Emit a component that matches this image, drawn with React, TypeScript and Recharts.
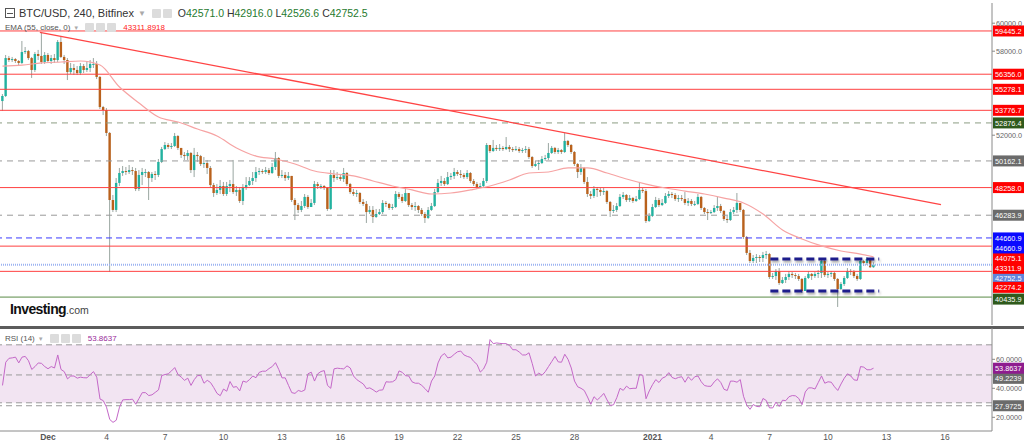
import React from 'react'
import { ComposedChart, Bar, Line, XAxis, YAxis, ReferenceLine, ReferenceArea } from 'recharts'

// 4h candles, hours relative to Dec 1 00:00
const START_HOUR = -56
const STEP_HOURS = 4
const FIRST_OPEN = 54440

const CLOSES = [
  54800, 57510, 57370, 57440, 57300, 57160, 57940, 58010, 57510, 56660,
  57800, 57660, 57230, 57730, 57300, 57510, 57370, 58660, 57590, 57370,
  56510, 56800, 56660, 56440, 56940, 56660, 56800, 57090, 57090, 56160,
  54010, 53800, 52160, 47370, 46660, 48590, 49300, 49440, 49370, 49510,
  49440, 48160, 49160, 49370, 49370, 48940, 49230, 49160, 50090, 51010,
  51300, 51160, 51230, 51940, 51090, 50590, 50510, 50730, 49510, 50590,
  50510, 49940, 50010, 49660, 48440, 47870, 48090, 48370, 47800, 48370,
  48510, 47940, 48090, 47300, 48230, 48440, 48730, 48940, 49370, 49440,
  49370, 49510, 49300, 49730, 50370, 49090, 49160, 48940, 49090, 47370,
  47010, 46660, 46940, 47590, 46870, 47160, 48510, 48370, 48370, 48230,
  46730, 49160, 48940, 49010, 48870, 49300, 48510, 47940, 47800, 47870,
  47230, 47090, 46510, 46660, 46160, 46370, 46510, 47160, 47090, 46800,
  46870, 47800, 47590, 47300, 47870, 47010, 46870, 46940, 46660, 46370,
  46090, 46660, 46940, 47940, 48590, 48730, 48510, 49010, 49090, 49370,
  49230, 49160, 49010, 49300, 48730, 48510, 48300, 48370, 48730, 51300,
  50870, 51090, 51010, 51090, 51010, 51160, 51010, 50940, 51010, 50870,
  50940, 51010, 50440, 49800, 49940, 50010, 50300, 50370, 50730, 51090,
  50800, 50940, 50800, 51590, 51300, 50800, 49940, 49370, 49660, 48660,
  47800, 47660, 48160, 48090, 47940, 48010, 47230, 46590, 46660, 46940,
  47590, 47730, 47370, 47510, 47300, 47440, 48090, 48010, 45870, 46230,
  46870, 47370, 47010, 47160, 47660, 47800, 47730, 47440, 47510, 47440,
  47160, 47300, 47090, 47090, 47590, 46800, 46510, 46440, 46510, 46800,
  46940, 46590, 46010, 45940, 46510, 46660, 47160, 46660, 44730, 43590,
  43010, 43230, 43300, 43230, 43440, 43510, 41870, 41940, 42300, 41440,
  41660, 41870, 42090, 42010, 41940, 41730, 40870, 41800, 42090, 41940,
  42090, 42160, 43010, 42010, 42090, 42160, 41730, 41010, 41370, 41800,
  42300, 42230, 41940, 41730, 43010, 42870, 43160, 42571, 42752.5,
]

const HIGHS = [
  54940, 57730, 57660, 57590, 57510, 57370, 58730, 58300, 58090, 57590,
  57940, 58090, 59300, 57940, 57870, 57730, 57800, 58800, 59090, 57730,
  57510, 57160, 57090, 56940, 57160, 57090, 57230, 57370, 57510, 57300,
  56230, 54090, 53940, 52230, 47730, 48940, 49660, 49800, 49730, 49870,
  49730, 49660, 49510, 49660, 49590, 49440, 49370, 49440, 50300, 51160,
  51510, 51440, 51440, 52160, 52010, 51090, 50800, 50940, 50800, 51090,
  50800, 50590, 50440, 50230, 49800, 48590, 48510, 48800, 48660, 48660,
  48800, 50230, 48370, 48300, 48510, 49010, 49010, 49370, 49730, 49660,
  49590, 49730, 49660, 50010, 50800, 50440, 49510, 49370, 49370, 49090,
  47510, 47160, 47300, 47800, 47730, 47440, 48730, 48660, 48510, 48440,
  48300, 49510, 49510, 49370, 49230, 49660, 49370, 48590, 48160, 48090,
  47940, 47440, 47300, 46940, 46940, 46730, 46730, 47370, 47300, 47160,
  47090, 48010, 47940, 47800, 48300, 47870, 47160, 47230, 47010, 46800,
  46510, 46870, 47160, 48160, 48870, 49090, 48940, 49370, 49300, 49660,
  49510, 49510, 49300, 49510, 49370, 48870, 48660, 48590, 48940, 51440,
  51300, 51660, 51300, 51370, 51230, 51870, 51300, 51160, 51230, 51160,
  51090, 51230, 51160, 50510, 50160, 50230, 50510, 50590, 51440, 51230,
  51160, 51090, 51010, 52160, 51660, 51370, 50870, 50010, 49940, 49730,
  49010, 48010, 48370, 48300, 48230, 48230, 48090, 47300, 47010, 47160,
  47800, 47940, 47800, 47730, 47590, 47660, 48660, 48230, 48160, 46440,
  47090, 47590, 47510, 47440, 47870, 48010, 47940, 47870, 47730, 47730,
  47940, 47510, 47440, 47300, 47800, 47660, 46870, 46730, 46660, 47010,
  47590, 47090, 46660, 46230, 46730, 46870, 47870, 47160, 46730, 44800,
  43800, 43440, 43510, 43440, 43660, 43730, 43590, 42160, 42440, 42510,
  41870, 42090, 42300, 42230, 42160, 42090, 41800, 41940, 42300, 42160,
  42230, 42370, 43230, 43090, 42230, 42300, 42230, 41800, 41510, 41940,
  42510, 42440, 42370, 42090, 43160, 43090, 43300, 43230, 42916,
]

const LOWS = [
  53730, 54730, 57230, 57230, 57160, 56940, 57090, 57800, 57370, 56090,
  56510, 57370, 57090, 57090, 57160, 57090, 57160, 57230, 57510, 57090,
  55940, 56370, 56300, 56300, 56300, 56440, 56510, 56510, 56800, 56010,
  53870, 53440, 51940, 42230, 46510, 46510, 48370, 49090, 49160, 49230,
  49160, 48010, 48010, 48440, 49010, 47370, 48660, 48800, 49010, 50010,
  50940, 51010, 51010, 51160, 50940, 50370, 50230, 50230, 49300, 49010,
  50090, 49800, 49660, 49230, 48300, 47590, 47730, 47800, 47660, 47660,
  47940, 47800, 47660, 47160, 47010, 48090, 48370, 48440, 48660, 49160,
  49230, 49230, 49160, 49230, 49510, 48940, 48940, 48730, 48800, 47230,
  45940, 46440, 46510, 46800, 46730, 46940, 47010, 48160, 48160, 48090,
  46590, 46660, 48660, 48800, 48730, 48660, 48370, 47800, 47660, 47590,
  47090, 46940, 45730, 46370, 45730, 46090, 46300, 46370, 46870, 46660,
  46660, 46800, 47440, 47160, 47230, 46870, 46660, 46590, 46440, 46230,
  45730, 46010, 46590, 46870, 47870, 48370, 48370, 48440, 48800, 48870,
  49090, 48940, 48870, 48870, 48590, 48370, 48160, 48230, 48230, 48590,
  50730, 50800, 50870, 50870, 50870, 50940, 50800, 50800, 50870, 50730,
  50730, 50730, 50300, 49660, 49730, 49510, 49940, 50160, 50230, 50660,
  50660, 50660, 50660, 50730, 51160, 50660, 49800, 48940, 49160, 48510,
  47590, 47440, 47510, 47590, 47660, 47730, 47090, 46160, 46440, 46510,
  46870, 47440, 47230, 47230, 47160, 47230, 47370, 47870, 45730, 45800,
  46160, 46800, 46870, 46940, 47090, 47510, 47510, 47300, 47230, 47300,
  47010, 46940, 46940, 46940, 47010, 46660, 46370, 45940, 46370, 46440,
  46590, 46440, 45870, 45730, 45870, 46370, 46440, 46510, 44590, 43440,
  42870, 42870, 42870, 42940, 42940, 43160, 41730, 41730, 41660, 41300,
  41370, 41440, 41660, 41800, 41730, 41590, 40730, 40870, 41730, 41660,
  41800, 41800, 41800, 41870, 41800, 41870, 41590, 39730, 40940, 41230,
  41730, 42010, 41800, 41590, 41660, 42660, 42730, 42510, 42526.6,
]

// EMA(55) read once per day (every 6th candle), plus the last value
const EMA_DAILY = [
  56940, 57010, 57160, 57230, 57300, 57010, 55440, 54300, 53300, 52940,
  52440, 51940, 51090, 50510, 50300, 49940, 49440, 49230, 49090, 48730,
  48370, 48090, 47800, 47870, 48090, 48370, 48800, 49300, 49370, 49660,
  49660, 49300, 48870, 48510, 48230, 48010, 47800, 47510, 47160, 46370,
  45230, 44590, 44090, 43730, 43510,
]
const EMA_LAST = 43311.8918

const RSI14 = [
  42, 58, 60.7, 61, 61.5, 57.5, 61.5, 62, 59, 53,
  55, 57.5, 57.2, 55, 53.5, 55, 54, 63, 53, 51.5,
  46.5, 48.5, 48.5, 47, 47.7, 47.3, 47.2, 49.5, 51.5, 47.7,
  32.6, 31.5, 27, 18.5, 16.5, 18, 27, 32, 32.2, 32.2,
  32.5, 29, 33, 37, 37, 35, 35.5, 37.2, 38.9, 48.8,
  49.5, 50, 52, 54.3, 49.5, 47.7, 45.5, 47, 42, 46,
  48.8, 48.8, 43.5, 45.5, 44, 40.5, 36.5, 34.9, 39.5, 38,
  44.7, 40.7, 41.2, 38.2, 45, 44.2, 46, 48.5, 47.3, 51,
  51.8, 51.8, 53.6, 55, 57.7, 53, 47.2, 47.2, 42, 37,
  36.5, 38.5, 37.8, 38.8, 50, 51.1, 45, 50, 51.6, 52.2,
  42, 40, 53.4, 53.9, 53.6, 53.4, 55.5, 54, 48.5, 46,
  44.5, 43, 39.8, 40.3, 39, 37.4, 38.7, 38.9, 44.5, 44.3,
  44.5, 46, 52, 51, 48.7, 48.5, 44.5, 43.5, 43.5, 42,
  39.8, 37.3, 45, 48.5, 57.5, 62.3, 64, 61, 61.5, 63.5,
  65.2, 65.7, 63, 62, 61.3, 58.5, 56.5, 51.2, 53.3, 58,
  73.6, 70.8, 71.3, 71, 70.8, 70.8, 69.5, 66.6, 66.6, 65,
  63, 63, 64.5, 57, 48.5, 50.5, 49, 51.5, 55, 58.5,
  62, 58.2, 58, 63.5, 60, 54, 45, 41, 40, 38.5,
  34, 29, 34.2, 32, 34, 36.5, 32, 28.2, 28.6, 33.5,
  40, 38.6, 41.5, 39.7, 40, 40, 49.5, 49, 32.8, 38.2,
  42.5, 46, 44, 47, 48, 50.8, 47.5, 46.6, 47.5, 48,
  44.2, 48, 45.5, 48, 48.5, 44.5, 41.9, 41.4, 41.4, 44.5,
  46.5, 44, 39.3, 38.5, 45, 44.9, 44.2, 46, 34.5, 28.4,
  25.5, 28.8, 27.5, 27.3, 33, 31.6, 26.5, 26.5, 30.5, 27.5,
  31.8, 31.5, 34.2, 35, 34.8, 33, 28.7, 37.5, 40.3, 40.3,
  39.5, 44, 48.5, 43.5, 44.5, 44.2, 41, 38.5, 43, 47,
  50, 48.5, 45.8, 45.5, 55, 54.6, 52.8, 52.8, 53.8637,
]

// horizontal levels drawn on the price pane
const LEVELS = [59445.2, 56356.0, 55278.1, 53776.7, 52876.4, 50162.1, 48258.0, 46283.9, 44660.9, 44075.1, 42752.5, 42274.2, 40435.9]
const LEVEL_KIND = ['red', 'red', 'red', 'red', 'greenDash', 'grayDash', 'red', 'grayDash', 'blueDash', 'red', 'price', 'red', 'green']
const LEVEL_TAG_SHIFT = [0, 0, 0, 0, 0, 0, 0, 0, 0, 12, 13, 16, 2]

// trend line and the consolidation box (hours, price)
const TREND = [{ x: -10, y: 59350 }, { x: 1099, y: 47040 }]
const BOX_HOURS = [889, 1023]
const BOX_PRICES = [43160, 40870]

const DAY_TICKS = [0, 72, 144, 216, 288, 360, 432, 504, 576, 648, 744, 816, 888, 960, 1032, 1104]
const DAY_LABELS = ['Dec', '4', '7', '10', '13', '16', '19', '22', '25', '28', '2021', '4', '7', '10', '13', '16']
const PRICE_TICKS = [60000, 58000, 52000]
const RSI_TICKS = [80, 60, 40, 20]
const RSI_LEVELS = [70, 49.2239, 30, 27.9725]
const RSI_TAGGED = [false, true, false, true]

const X_DOMAIN = [-59.08, 1161.8]
const PRICE_DOMAIN = [38442, 61443]
const RSI_DOMAIN = [10.55, 81.6]

const FONT = '"Liberation Sans", Arial, sans-serif'
const UP = '#22b2a0'
const DOWN = '#b9611c'
const WICK = '#9aa6a1'

const KIND_STYLE: Record<string, { stroke: string; dash?: string; tag: string; width?: number }> = {
  red: { stroke: '#ff4040', tag: '#ff0000' },
  greenDash: { stroke: '#8c9c82', dash: '6 5', tag: '#2f5a1c' },
  grayDash: { stroke: '#9a9a9a', dash: '6 5', tag: '#6b6b6b' },
  blueDash: { stroke: '#3a3aff', dash: '6 4', tag: '#0a0aff' },
  price: { stroke: '#9db4f2', dash: '1 1', tag: '#5f85dc', width: 2 },
  green: { stroke: '#5a8a46', tag: '#2f5a1c' },
}

const rows = CLOSES.map((close, i) => ({
  h: START_HOUR + i * STEP_HOURS,
  open: i === 0 ? FIRST_OPEN : CLOSES[i - 1],
  close,
  high: HIGHS[i],
  low: LOWS[i],
  ema: i % 6 === 0 ? EMA_DAILY[i / 6] : i === CLOSES.length - 1 ? EMA_LAST : null,
  rsi: RSI14[i],
}))

function Candle(props: any) {
  const { x, y, width, height, payload } = props
  if (payload == null || height == null) return null
  const { open, close, high, low } = payload
  const cx = x + width / 2
  const k = height / (high - low)
  const yo = y + (high - open) * k
  const yc = y + (high - close) * k
  const up = close >= open
  return (
    <g>
      <line x1={cx} x2={cx} y1={y} y2={y + height} stroke={WICK} strokeWidth={1} />
      <rect x={cx - 1.2} y={Math.min(yo, yc)} width={2.4} height={Math.max(Math.abs(yo - yc), 1)} fill={up ? UP : DOWN} />
    </g>
  )
}

const tag = (text: string, bg: string, shift: number) => (props: any) => {
  const vb = props.viewBox || { x: 0, y: 0, width: 0 }
  const left = vb.x + vb.width + 1
  const cy = vb.y + shift
  return (
    <g>
      <rect x={left} y={cy - 5.5} width={31} height={11} fill={bg} />
      <text x={left + 2} y={cy + 3} fontSize={8} fill="#fff" fontFamily={FONT} textLength={26.5} lengthAdjust="spacingAndGlyphs">
        {text}
      </text>
    </g>
  )
}

function AxisTick(props: any) {
  const { x, y, payload, digits } = props
  return (
    <text x={x} y={y} dy={3} fontSize={8} fill="#666" fontFamily={FONT} textLength={26} lengthAdjust="spacingAndGlyphs">
      {Number(payload.value).toFixed(digits)}
    </text>
  )
}

function DayTick(props: any) {
  const { x, y, payload } = props
  const label = DAY_LABELS[payload.index] ?? ''
  const bold = label === 'Dec' || label === '2021'
  return (
    <text x={x} y={y} dy="0.71em" textAnchor="middle" fontSize={8.5} fill="#555" fontWeight={bold ? 700 : 400} fontFamily={FONT}>
      {label}
    </text>
  )
}

const IconBox = () => (
  <span style={{ display: 'inline-block', width: 9, height: 9, background: '#dcdcdc', borderRadius: 1, marginRight: 2 }} />
)

export default function App() {
  return (
    <div style={{ position: 'fixed', left: 0, top: 0, width: 1024, height: 446, background: '#fff', overflow: 'hidden', fontFamily: FONT }}>
      <div style={{ position: 'absolute', left: 0, top: 0 }}>
        <ComposedChart width={1024} height={326} data={rows} margin={{ top: 3, right: 0, bottom: 1, left: 0 }}>
          <XAxis dataKey="h" type="number" domain={X_DOMAIN} allowDataOverflow hide />
          <YAxis
            orientation="right"
            width={32}
            domain={PRICE_DOMAIN}
            allowDataOverflow
            ticks={PRICE_TICKS}
            tick={<AxisTick digits={1} />}
            tickSize={3}
            tickMargin={1}
            axisLine={{ stroke: '#8a8a8a' }}
            tickLine={{ stroke: '#8a8a8a' }}
          />
          {LEVELS.map((v, i) => {
            const s = KIND_STYLE[LEVEL_KIND[i]]
            return (
              <ReferenceLine
                key={`lvl-${i}`}
                y={v}
                stroke={s.stroke}
                strokeDasharray={s.dash}
                strokeWidth={s.width ?? 1}
                label={tag(v.toFixed(1), s.tag, LEVEL_TAG_SHIFT[i])}
              />
            )
          })}
          <ReferenceLine y={LEVELS[8]} stroke="none" label={tag(LEVELS[8].toFixed(1), KIND_STYLE.blueDash.tag, 10)} />
          <ReferenceLine y={EMA_LAST} stroke="none" label={tag(EMA_LAST.toFixed(1), '#ff0000', 11.5)} />
          <ReferenceLine segment={TREND} stroke="#ff4444" strokeWidth={1.3} />
          <Bar dataKey={(d: any) => [d.low, d.high]} shape={<Candle />} barSize={3} isAnimationActive={false} />
          <Line dataKey="ema" type="monotone" stroke="#f6a3a3" strokeWidth={1.2} dot={false} connectNulls isAnimationActive={false} />
          {BOX_PRICES.map((p, i) => (
            <ReferenceLine
              key={`box-${i}`}
              segment={[{ x: BOX_HOURS[0], y: p }, { x: BOX_HOURS[1], y: p }]}
              stroke="#1d1d8c"
              strokeWidth={3}
              strokeDasharray="8 4"
              style={{ filter: 'drop-shadow(1px 2px 1px rgba(0,0,0,0.35))' }}
            />
          ))}
        </ComposedChart>
      </div>

      <div style={{ position: 'absolute', left: 0, top: 326, width: 1024, height: 2.5, background: '#5c5c5c' }} />

      <div style={{ position: 'absolute', left: 0, top: 328 }}>
        <ComposedChart width={1024} height={118} data={rows} margin={{ top: 0, right: 0, bottom: 0, left: 0 }}>
          <XAxis
            dataKey="h"
            type="number"
            domain={X_DOMAIN}
            allowDataOverflow
            ticks={DAY_TICKS}
            interval={0}
            tick={<DayTick />}
            tickLine={false}
            tickSize={3}
            tickMargin={0}
            height={15}
            axisLine={{ stroke: '#8a8a8a' }}
          />
          <YAxis
            orientation="right"
            width={32}
            domain={RSI_DOMAIN}
            allowDataOverflow
            ticks={RSI_TICKS}
            tick={<AxisTick digits={4} />}
            tickSize={3}
            tickMargin={1}
            axisLine={{ stroke: '#8a8a8a' }}
            tickLine={{ stroke: '#8a8a8a' }}
          />
          <ReferenceArea y1={30} y2={70} fill="#f2e4f2" fillOpacity={1} stroke="none" />
          {RSI_LEVELS.map((v, i) => (
            <ReferenceLine
              key={`rsi-${i}`}
              y={v}
              stroke="#9a9a9a"
              strokeDasharray="6 4"
              label={RSI_TAGGED[i] ? tag(v.toFixed(4), '#6b6b6b', i === 1 ? 3.4 : 0) : undefined}
            />
          ))}
          <Line dataKey="rsi" type="linear" stroke="#c468c8" strokeWidth={1} dot={false} isAnimationActive={false} />
          <ReferenceLine y={RSI14[RSI14.length - 1]} stroke="none" label={tag(RSI14[RSI14.length - 1].toFixed(4), '#8e1c8e', 0)} />
        </ComposedChart>
      </div>

      {/* header */}
      <div style={{ position: 'absolute', left: 5, top: 7, display: 'flex', alignItems: 'center', whiteSpace: 'nowrap', fontSize: 11, color: '#333' }}>
        <span style={{ display: 'inline-block', width: 8, height: 8, border: '1px solid #555', marginRight: 4, position: 'relative' }}>
          <span style={{ position: 'absolute', left: 1, right: 1, top: 3.5, height: 1, background: '#555' }} />
        </span>
        <span>BTC/USD, 240, Bitfinex</span>
        <span style={{ color: '#aaa', fontSize: 8, margin: '0 6px 0 4px' }}>▼</span>
        <IconBox />
        <IconBox />
        <span style={{ marginLeft: 4, fontSize: 10.5 }}>
          O<span style={{ color: '#1f7a2e' }}>42571.0</span>
          {'  '}H<span style={{ color: '#1f7a2e' }}>42916.0</span>
          {'  '}L<span style={{ color: '#1f7a2e' }}>42526.6</span>
          {'  '}C<span style={{ color: '#1f7a2e' }}>42752.5</span>
        </span>
      </div>
      <div style={{ position: 'absolute', left: 5, top: 23, display: 'flex', alignItems: 'center', whiteSpace: 'nowrap', fontSize: 8, color: '#555' }}>
        <span>EMA (55, close, 0)</span>
        <span style={{ color: '#aaa', fontSize: 6, margin: '0 6px 0 3px' }}>▼</span>
        <IconBox />
        <IconBox />
        <IconBox />
        <span style={{ color: '#ff1a1a', marginLeft: 5 }}>43311.8918</span>
      </div>

      {/* logo */}
      <div style={{ position: 'absolute', left: 10, top: 300, whiteSpace: 'nowrap', color: '#111' }}>
        <span style={{ fontWeight: 700, fontSize: 14, letterSpacing: -0.6 }}>Investing</span>
        <span style={{ fontSize: 10.5, color: '#444' }}>.com</span>
      </div>

      <div style={{ position: 'absolute', left: 5, top: 334, display: 'flex', alignItems: 'center', whiteSpace: 'nowrap', fontSize: 8, color: '#555' }}>
        <span>RSI (14)</span>
        <span style={{ color: '#aaa', fontSize: 6, margin: '0 6px 0 3px' }}>▼</span>
        <IconBox />
        <IconBox />
        <IconBox />
        <span style={{ color: '#9a2a9a', marginLeft: 5 }}>53.8637</span>
      </div>
    </div>
  )
}
